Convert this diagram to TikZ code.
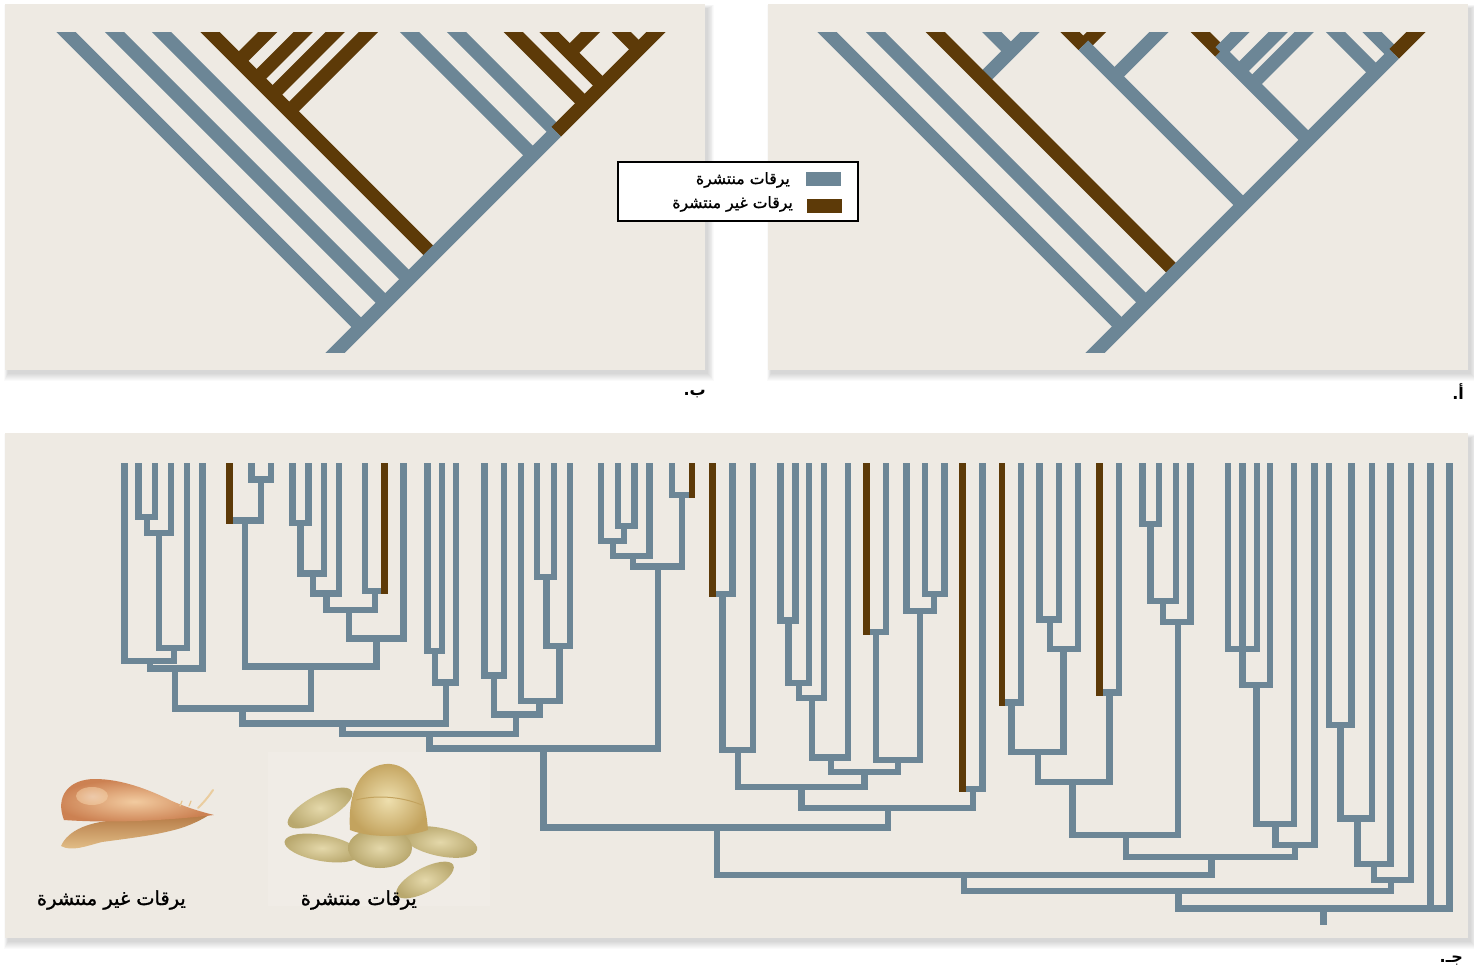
\documentclass[tikz,border=0pt]{standalone}
\usepackage{fontspec}
\newfontfamily\arabicfont[Script=Arabic,FakeBold=1.3]{DejaVu Sans}
\newfontfamily\arabicbold[Script=Arabic]{DejaVu Sans Bold}
\TeXXeTstate=1
\usetikzlibrary{calc}

\definecolor{lblue}{HTML}{6C8696}
\definecolor{lbrown}{HTML}{5D3A08}
\definecolor{panelbg}{HTML}{EEEAE3}
\definecolor{shellin}{HTML}{F2CBA0}
\definecolor{shellout}{HTML}{CC8152}
\definecolor{foottop}{HTML}{B57A45}
\definecolor{footbot}{HTML}{E6C48E}
\definecolor{velin}{HTML}{E4D8AA}
\definecolor{velout}{HTML}{B9A86E}
\definecolor{capin}{HTML}{EEDFAE}
\definecolor{capout}{HTML}{C3A35E}

\tikzset{
  band/.style={line width=13.6pt, line cap=butt},
  bb/.style={band, draw=lblue},
  bn/.style={band, draw=lbrown},
  tb/.style={line width=6.4pt, draw=lblue, line join=miter, line cap=butt},
  tbr/.style={line width=6.4pt, draw=lbrown, line cap=butt},
  lab/.style={font=\arabicfont\fontsize{15.7}{18}\selectfont, inner sep=0pt, text=black},
  biglab/.style={font=\arabicfont\fontsize{19.4}{22}\selectfont, inner sep=0pt, text=black},
  letterlab/.style={font=\arabicbold\fontsize{16}{18}\selectfont, inner sep=0pt, text=black},
  panel/.style={fill=panelbg, draw=none},
  lobe/.style={inner color=velin, outer color=velout},
}

% soft drop shadow under a panel: x0 y0 x1 y1
\newcommand\softshadow[4]{%
  \foreach \k in {1,...,8}{%
    \fill[black,opacity=0.02] ({#1+3-\k*0.5},{#2+5-\k*0.5}) rectangle ({#3+2+\k*0.9},{#4+3+\k*1.0});}}

\begin{document}
\begin{tikzpicture}[x=1pt,y=-1pt]
\useasboundingbox (0,0) rectangle (1474,971);
\fill[white] (0,0) rectangle (1474,971);

% ---------- panels ----------
\softshadow{5}{4}{705}{370}
\softshadow{768}{4}{1468}{370}
\softshadow{5}{433}{1468}{938}
\fill[panel] (5,4) rectangle (705,370);
\fill[panel] (768,4) rectangle (1468,370);
\fill[panel] (5,433) rectangle (1468,938);

% ---------- tree b (left, top) ----------
\begin{scope}
  \clip (0,33) rectangle (740,352);
  \draw[bb] (52,18) -- (361,327);
  \draw[bb] (100.5,18) -- (385.25,302.75);
  \draw[bb] (147.6,18) -- (408.8,279.2);
  \draw[bn] (281.8,18) -- (238.9,60.9);
  \draw[bn] (317.2,18) -- (256.6,78.6);
  \draw[bn] (349.3,18) -- (272.65,94.65);
  \draw[bn] (382.4,18) -- (289.2,111.2);
  \draw[bn] (196,18) -- (433,255);
  \draw[bb] (395.5,18) -- (532.75,155.25);
  \draw[bb] (442.4,18) -- (556.2,131.8);
  \draw[bn] (499.3,18) -- (584.65,103.35);
  \draw[bn] (604.6,18) -- (569.85,52.75);
  \draw[bn] (535.1,18) -- (602.55,85.45);
  \draw[bn] (607.2,18) -- (638.6,49.4);
  \draw[bn] (670,18) -- (556.2,131.8);
  \draw[bb] (556.2,131.8) -- (320,368);
\end{scope}

% ---------- tree a (right, top) ----------
\begin{scope}
  \clip (760,33) rectangle (1474,352);
  \draw[bb] (812.9,18) -- (1121.45,326.55);
  \draw[bb] (861.6,18) -- (1145.8,302.2);
  \draw[bb] (977.7,18) -- (1010.9,51.2);
  \draw[bb] (1044.1,18) -- (982.65,79.45);
  \draw[bn] (921.2,18) -- (1175.6,272.4);
  \draw[bn] (1056,18) -- (1083.3,45.3);
  \draw[bn] (1110.6,18) -- (1083.3,45.3);
  \draw[bb] (1173,18) -- (1114.5,76.5);
  \draw[bb] (1083.3,45.3) -- (1243,205);
  \draw[bn] (1186.3,18) -- (1220.2,51.9);
  \draw[bb] (1254.1,18) -- (1220.2,51.9);
  \draw[bb] (1292.3,18) -- (1239.3,71);
  \draw[bb] (1318.3,18) -- (1252.3,84);
  \draw[bb] (1220.2,51.9) -- (1308.15,139.85);
  \draw[bb] (1321.5,18) -- (1375.75,72.25);
  \draw[bb] (1358,18) -- (1394,54);
  \draw[bn] (1430,18) -- (1394,54);
  \draw[bb] (1394,54) -- (1080,368);
\end{scope}

% ---------- legend ----------
\node[draw=black, line width=1.3pt, fill=white, minimum width=240pt, minimum height=59pt, inner sep=0pt] (legend) at (738,191.5) {};
\fill[lblue] (806,172) rectangle (841,186);
\fill[lbrown] (807,199) rectangle (842,213);
\node[lab, anchor=east] (lg1) at (790,180) {\beginR يرقات منتشرة\endR};
\node[lab, anchor=east] (lg2) at (793,204) {\beginR يرقات غير منتشرة\endR};

% ---------- panel letters ----------
\node[letterlab, anchor=east] (la) at (1464,392) {\beginR أ.\endR};
\node[letterlab, anchor=east] (lb) at (706,394) {\beginR ب.\endR};
\node[letterlab, anchor=east] (lc) at (1463,961) {\beginR جـ.\endR};

% ---------- tree c (bottom, rectangular) ----------
% each entry: left child x / its top / right child x / its top / node height
\foreach \a/\b/\c/\d/\e in {
  138.3/463/154.7/463/517, 146.7/517/171/463/533, 158.7/533/187/463/648,
  124.3/463/174/648/660.7, 150/660.7/202.3/463/668.5,
  251.3/463/271/463/479.3, 229.3/463/260.7/479.3/520.3,
  292.3/463/308.3/463/522.7, 300.3/522.7/323.7/463/573.3,
  312.7/573.3/339/463/593.3, 364.7/463/384.3/463/591,
  326.3/593.3/374.7/591/609.7, 349/609.7/403.3/463/638.3,
  244.7/520.3/376.3/638.3/666.5, 174.7/668.5/310.7/666.5/708.3,
  427.3/463/441.7/463/650.7, 435/650.7/455.7/463/682.3,
  242.3/708.3/446/682.3/723.3,
  484.3/463/503.7/463/675.3, 537/463/554/463/576.7,
  546.3/576.7/569.7/463/646, 521/463/559.3/646/700.7,
  493.7/675.3/539.3/700.7/714.3, 342.3/723.3/516/714.3/734,
  617.7/463/634.3/463/525.7, 600.7/463/623.7/525.7/541,
  613/541/649.3/463/556, 672/463/692/463/495,
  633/556/682/495/566.3, 429.3/734/657.7/566.3/748.3,
  712.3/463/732.3/463/594, 722.3/594/752.7/463/750,
  780.3/463/795.3/463/620.3, 788.3/620.3/809/463/682.7,
  798.7/682.7/823.7/463/697.7, 812/697.7/848/463/757.3,
  866.3/463/886/463/631.7, 924.7/463/944.3/463/593.7,
  906.3/463/934/593.7/610.7, 875.7/631.7/919.7/610.7/760,
  830.7/757.3/898/760/772, 738/750/864.3/772/786.7,
  962.3/463/982.3/463/789, 801.3/786.7/973/789/808,
  543.6/748.3/888/808/827.3,
  1001.7/463/1021/463/702.3, 1039.3/463/1059/463/619.3,
  1049.7/619.3/1077.7/463/648.7, 1011.3/702.3/1063.3/648.7/751.7,
  1099.3/463/1119/463/692.3, 1037.7/751.7/1109.3/692.3/781.7,
  1142.3/463/1158.7/463/524, 1150.3/524/1175.7/463/600.7,
  1163/600.7/1190.3/463/622, 1072.3/781.7/1178/622/835,
  1228/463/1256.7/463/648.7, 1242.3/463/1270/463/684.7,
  1256.3/684.7/1294/463/823.7, 1275.3/823.7/1314.3/463/844.7,
  1125.7/835/1295/844.7/856.7, 716.7/827.3/1211.3/856.7/874.7,
  1329/463/1351.3/463/725, 1340.3/725/1371.7/463/818.3,
  1357.3/818.3/1390.3/463/863.7, 1374/863.7/1410.7/463/879.7,
  964.2/874.7/1391/879.7/890.7, 1178.3/890.7/1449.3/463/908.3}
  \draw[tb] (\a,\b) |- (\c,\e) -- (\c,\d);
\draw[tb] (1430.3,463) -- (1430.3,908.3);
\draw[tb] (1323.3,908.3) -- (1323.3,925);
% non-dispersing tips
\foreach \x/\y in {229.3/520.3, 384.3/591, 692/495, 712.3/594,
                   866.3/631.7, 962.3/789, 1001.7/702.3, 1099.3/692.3}
  \draw[tbr] (\x,463) -- (\x,{\y+3.2});

% ---------- snail with non-dispersing larvae ----------
% foot
\shade[top color=foottop, bottom color=footbot]
  (61,846) .. controls (68,830) and (90,821) .. (120,820)
  .. controls (160,818) and (190,815) .. (209,815)
  .. controls (198,822) and (184,828) .. (170,831)
  .. controls (150,836) and (124,839) .. (102,842)
  .. controls (86,846) and (72,852) .. (61,846) -- cycle;
% shell and body
\shade[inner color=shellin, outer color=shellout]
  (64,820) .. controls (55,797) and (68,779) .. (95,779)
  .. controls (122,779) and (150,790) .. (172,801)
  .. controls (188,808) and (202,812) .. (214,815)
  .. controls (180,819) and (120,824) .. (64,820) -- cycle;
\shade[inner color=white!50!shellin, outer color=shellin, opacity=0.6]
  (92,796) ellipse (16 and 9);
% tentacles
\draw[line width=2pt, color=footbot!85!white, line cap=round]
  (198,808) .. controls (205,801) and (209,796) .. (213,790);
\draw[line width=1.2pt, color=footbot, line cap=round] (180,806) -- (182,801);
\draw[line width=1.2pt, color=footbot, line cap=round] (189,806) -- (191,801);

% ---------- veliger (dispersing larva) ----------
\fill[white, opacity=0.12] (268,752) rectangle (490,906);
\shade[lobe, rotate around={28:(320,808)}] (320,808) ellipse (36 and 13);
\shade[lobe, rotate around={-10:(322,848)}] (322,848) ellipse (38 and 13);
\shade[lobe, rotate around={-12:(440,842)}] (440,842) ellipse (38 and 14);
\shade[lobe, rotate around={28:(425,880)}] (425,880) ellipse (32 and 12);
\shade[lobe] (380,848) ellipse (32 and 20);
\shade[inner color=capin, outer color=capout]
  (350,830) .. controls (348,800) and (355,768) .. (385,764)
  .. controls (412,762) and (425,790) .. (428,830)
  .. controls (405,838) and (370,838) .. (350,830) -- cycle;
\draw[line width=1pt, color=capout]
  (356,800) .. controls (375,795) and (400,796) .. (422,805);

% ---------- captions ----------
\node[biglab, anchor=east] (c1) at (186,900) {\beginR يرقات غير منتشرة\endR};
\node[biglab, anchor=east] (c2) at (417,900) {\beginR يرقات منتشرة\endR};

\end{tikzpicture}
\end{document}
